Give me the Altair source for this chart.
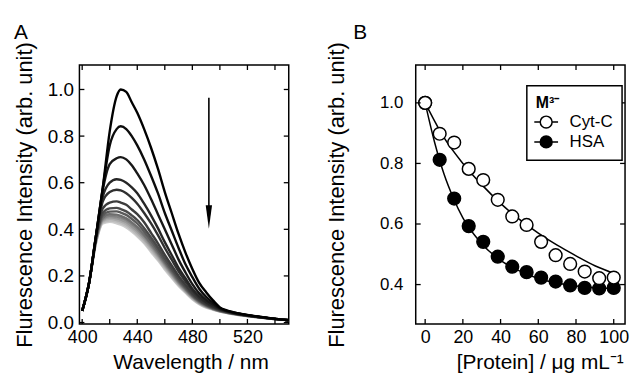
import altair as alt
import pandas as pd

FONT = "Liberation Sans"

# ---------------- Panel A: emission spectra ----------------
wavelength = [400, 405, 410, 415, 420, 425, 428, 432, 436, 440, 445, 450, 455, 460,
              465, 470, 475, 480, 485, 490, 495, 500, 505, 510, 520, 535, 550]

curve_01 = [0.05, 0.17, 0.37, 0.58, 0.82, 0.97, 1.00, 0.99, 0.945, 0.90, 0.83, 0.75, 0.66, 0.56,
            0.47, 0.38, 0.30, 0.23, 0.17, 0.13, 0.095, 0.065, 0.052, 0.044, 0.033, 0.02, 0.01]
curve_02 = [0.05, 0.17, 0.37, 0.58, 0.76, 0.83, 0.842, 0.83, 0.80, 0.76, 0.70, 0.63, 0.555, 0.47,
            0.395, 0.32, 0.25, 0.195, 0.145, 0.11, 0.085, 0.062, 0.05, 0.043, 0.032, 0.02, 0.01]
curve_03 = [0.05, 0.17, 0.37, 0.57, 0.68, 0.705, 0.71, 0.70, 0.675, 0.64, 0.59, 0.53, 0.465, 0.40,
            0.335, 0.27, 0.215, 0.165, 0.125, 0.097, 0.077, 0.06, 0.049, 0.042, 0.031, 0.019, 0.01]
curve_04 = [0.05, 0.17, 0.37, 0.54, 0.60, 0.615, 0.612, 0.60, 0.58, 0.555, 0.51, 0.46, 0.405, 0.345,
            0.29, 0.235, 0.19, 0.145, 0.112, 0.088, 0.071, 0.057, 0.048, 0.041, 0.031, 0.019, 0.01]
curve_05 = [0.05, 0.17, 0.37, 0.52, 0.56, 0.57, 0.567, 0.555, 0.535, 0.51, 0.47, 0.425, 0.375, 0.32,
            0.27, 0.22, 0.177, 0.137, 0.106, 0.084, 0.068, 0.055, 0.047, 0.04, 0.03, 0.019, 0.01]
curve_06 = [0.05, 0.17, 0.36, 0.49, 0.515, 0.52, 0.515, 0.505, 0.485, 0.465, 0.43, 0.385, 0.34, 0.29,
            0.245, 0.20, 0.162, 0.126, 0.099, 0.079, 0.065, 0.053, 0.046, 0.039, 0.03, 0.019, 0.01]
curve_07 = [0.05, 0.17, 0.36, 0.47, 0.49, 0.492, 0.487, 0.477, 0.46, 0.44, 0.405, 0.365, 0.322, 0.275,
            0.232, 0.19, 0.154, 0.121, 0.095, 0.076, 0.063, 0.052, 0.045, 0.039, 0.03, 0.019, 0.01]
curve_08 = [0.05, 0.17, 0.36, 0.46, 0.476, 0.477, 0.472, 0.462, 0.445, 0.425, 0.39, 0.352, 0.31, 0.265,
            0.224, 0.183, 0.149, 0.117, 0.092, 0.074, 0.061, 0.051, 0.044, 0.038, 0.029, 0.018, 0.01]
curve_09 = [0.05, 0.17, 0.355, 0.45, 0.465, 0.463, 0.458, 0.447, 0.43, 0.41, 0.377, 0.34, 0.30, 0.257,
            0.217, 0.177, 0.144, 0.113, 0.089, 0.072, 0.06, 0.05, 0.044, 0.038, 0.029, 0.018, 0.01]
curve_10 = [0.05, 0.17, 0.35, 0.445, 0.458, 0.455, 0.45, 0.44, 0.422, 0.402, 0.37, 0.333, 0.294, 0.252,
            0.212, 0.173, 0.141, 0.111, 0.087, 0.07, 0.059, 0.049, 0.043, 0.037, 0.029, 0.018, 0.01]
curve_11 = [0.05, 0.17, 0.35, 0.44, 0.451, 0.447, 0.442, 0.431, 0.413, 0.393, 0.362, 0.326, 0.287, 0.246,
            0.207, 0.169, 0.137, 0.108, 0.085, 0.069, 0.058, 0.049, 0.043, 0.037, 0.028, 0.018, 0.01]
curve_12 = [0.05, 0.17, 0.345, 0.435, 0.445, 0.44, 0.434, 0.423, 0.405, 0.385, 0.354, 0.318, 0.28, 0.24,
            0.202, 0.165, 0.134, 0.105, 0.083, 0.067, 0.057, 0.048, 0.042, 0.036, 0.028, 0.018, 0.01]
curve_13 = [0.05, 0.17, 0.34, 0.43, 0.438, 0.433, 0.427, 0.415, 0.397, 0.377, 0.346, 0.31, 0.273, 0.234,
            0.197, 0.161, 0.131, 0.103, 0.081, 0.066, 0.056, 0.047, 0.042, 0.036, 0.028, 0.018, 0.01]
curve_14 = [0.05, 0.17, 0.34, 0.425, 0.432, 0.426, 0.42, 0.408, 0.39, 0.37, 0.34, 0.303, 0.267, 0.228,
            0.192, 0.157, 0.128, 0.1, 0.079, 0.064, 0.055, 0.047, 0.041, 0.035, 0.027, 0.017, 0.01]

curves = [curve_01, curve_02, curve_03, curve_04, curve_05, curve_06, curve_07,
          curve_08, curve_09, curve_10, curve_11, curve_12, curve_13, curve_14]
curve_colors = ["#000000", "#0c0c0c", "#181818", "#262626", "#303030", "#3c3c3c", "#4a4a4a",
                "#5a5a5a", "#6e6e6e", "#828282", "#969696", "#aaaaaa", "#bcbcbc", "#cccccc"]

arrow_wl = [492]
arrow_top = [0.965]
arrow_bottom = [0.47]
arrow_head = [0.453]

a_xticks = [400, 420, 440, 460, 480, 500, 520, 540]
a_xlabels = [400, 440, 480, 520]
a_yticks = [0.0, 0.2, 0.4, 0.6, 0.8, 1.0]

# ---------------- Panel B: quenching ----------------
conc = [0, 7.7, 15.4, 23.1, 30.8, 38.5, 46.2, 53.8, 61.5, 69.2, 76.9, 84.6, 92.3, 100]
cytc = [1.0, 0.898, 0.869, 0.782, 0.745, 0.680, 0.625, 0.597, 0.541, 0.497, 0.468, 0.443, 0.421, 0.423]
hsa = [1.0, 0.812, 0.684, 0.593, 0.541, 0.492, 0.459, 0.441, 0.423, 0.410, 0.397, 0.389, 0.387, 0.389]

fit_cytc_x = [0, 10, 20, 30, 40, 50, 60, 70, 80, 90, 100]
fit_cytc_y = [1.0, 0.885, 0.80, 0.73, 0.668, 0.615, 0.57, 0.53, 0.495, 0.462, 0.437]
fit_hsa_x = [0, 5, 10, 15, 20, 30, 40, 50, 60, 70, 80, 90, 100]
fit_hsa_y = [1.0, 0.87, 0.765, 0.685, 0.62, 0.535, 0.48, 0.445, 0.42, 0.405, 0.395, 0.39, 0.386]

b_xticks = [0, 20, 40, 60, 80, 100]
b_yticks = [0.4, 0.6, 0.8, 1.0]

panel_letters = ["A", "B"]

# ---------------- build tables ----------------
rows = []
n = len(curves)
for i in range(n - 1, -1, -1):          # lightest first so dark curves lie on top
    key = f"k{n - 1 - i:02d}"
    for w, v in zip(wavelength, curves[i]):
        rows.append({"x": w, "y": v, "k": key})
spec_df = pd.DataFrame(rows)
key_domain = [f"k{j:02d}" for j in range(n)]
key_range = [curve_colors[n - 1 - j] for j in range(n)]

W, H = 211, 261
TICK = 5

axis_common = dict(domain=False, ticks=False, grid=False, labelFont=FONT, titleFont=FONT,
                   labelColor="black", titleColor="black", titleFontWeight="normal")

xA_scale = alt.Scale(domain=[398, 550], nice=False, zero=False)
yA_scale = alt.Scale(domain=[-0.006, 1.105], nice=False, zero=False)
xA_axis = alt.Axis(values=a_xlabels, title="Wavelength / nm", labelFontSize=18,
                   titleFontSize=21, labelPadding=5, titlePadding=5, titleX=112, **axis_common)
yA_axis = alt.Axis(values=a_yticks, format=".1f", title="Flurescence Intensity (arb. unit)",
                   labelFontSize=19, titleFontSize=22, labelPadding=6, titlePadding=11,
                   **axis_common)

xB_scale = alt.Scale(domain=[-5, 106], nice=False, zero=False)
yB_scale = alt.Scale(domain=[0.27, 1.125], nice=False, zero=False)
xB_axis = alt.Axis(values=b_xticks, title="[Protein] / μg mL⁻¹", labelFontSize=18,
                   titleFontSize=21, labelPadding=5, titlePadding=5, titleX=125,
                   **axis_common)
yB_axis = alt.Axis(values=b_yticks, format=".1f", title="Flurescence Intensity (arb. unit)",
                   labelFontSize=17, titleFontSize=22, labelPadding=13, titlePadding=31,
                   **axis_common)


def X(field, scale, axis):
    return alt.X(field, type="quantitative", scale=scale, axis=axis)


def Y(field, scale, axis):
    return alt.Y(field, type="quantitative", scale=scale, axis=axis)


linesA = alt.Chart(spec_df).mark_line(strokeWidth=2.4, interpolate="monotone").encode(
    x=X("x", xA_scale, xA_axis),
    y=Y("y", yA_scale, yA_axis),
    color=alt.Color("k:N", scale=alt.Scale(domain=key_domain, range=key_range), legend=None),
)

arrow_df = pd.DataFrame({"x": arrow_wl, "y": arrow_top, "y2": arrow_bottom})
head_df = pd.DataFrame({"x": arrow_wl, "y": arrow_head})
arrow_line = alt.Chart(arrow_df).mark_rule(color="black", strokeWidth=1.6).encode(
    x=X("x", xA_scale, xA_axis), y=Y("y", yA_scale, yA_axis), y2="y2:Q")
arrow_tip = alt.Chart(head_df).mark_point(shape="M-0.27,-1L0.27,-1L0,1Z", size=560, filled=True,
                                          color="black", opacity=1).encode(
    x=X("x", xA_scale, xA_axis), y=Y("y", yA_scale, yA_axis))


def tick_layers(xticks, yticks, xs, ys, xa, ya):
    xt = pd.DataFrame({"x": xticks})
    yt = pd.DataFrame({"y": yticks})
    base_x = alt.Chart(xt).mark_rule(color="black", strokeWidth=1.3)
    base_y = alt.Chart(yt).mark_rule(color="black", strokeWidth=1.3)
    bottom = base_x.encode(x=X("x", xs, xa), y=alt.value(H), y2=alt.value(H - TICK))
    top = base_x.encode(x=X("x", xs, xa), y=alt.value(0), y2=alt.value(TICK))
    left = base_y.encode(y=Y("y", ys, ya), x=alt.value(0), x2=alt.value(TICK))
    right = base_y.encode(y=Y("y", ys, ya), x=alt.value(W), x2=alt.value(W - TICK))
    return [bottom, top, left, right]


def letter(txt, dx):
    return alt.Chart(pd.DataFrame({"t": [txt]})).mark_text(
        font=FONT, fontSize=21, align="left", baseline="alphabetic", color="black"
    ).encode(text="t:N", x=alt.value(dx), y=alt.value(-26))


panelA = alt.layer(linesA, arrow_line, arrow_tip,
                   *tick_layers(a_xticks, a_yticks, xA_scale, yA_scale, xA_axis, yA_axis),
                   letter(panel_letters[0], -66)).properties(width=W, height=H)

# ---------------- Panel B ----------------
pts_df = pd.DataFrame({
    "x": conc + conc,
    "y": hsa + cytc,
    "p": ["HSA"] * len(conc) + ["Cyt-C"] * len(conc),
})
fit_df = pd.DataFrame({
    "x": fit_hsa_x + fit_cytc_x,
    "y": fit_hsa_y + fit_cytc_y,
    "p": ["HSA"] * len(fit_hsa_x) + ["Cyt-C"] * len(fit_cytc_x),
})

legend_symbol = ("M-1.26,0L-0.63,0M0.63,0L1.26,0"
                 "M-0.63,0A0.63,0.63,0,1,1,0.63,0A0.63,0.63,0,1,1,-0.63,0Z")

fitB = alt.Chart(fit_df).mark_line(color="black", strokeWidth=1.5, interpolate="monotone").encode(
    x=X("x", xB_scale, xB_axis),
    y=Y("y", yB_scale, yB_axis),
    detail="p:N",
)
ptsB = alt.Chart(pts_df).mark_point(filled=True, size=165, stroke="black", strokeWidth=1.5,
                                    opacity=1).encode(
    x=X("x", xB_scale, xB_axis),
    y=Y("y", yB_scale, yB_axis),
    fill=alt.Fill("p:N", scale=alt.Scale(domain=["Cyt-C", "HSA"], range=["white", "black"]),
                  legend=alt.Legend(title="M³⁻", orient="none", legendX=451, legendY=21,
                                    symbolType=legend_symbol, symbolSize=361,
                                    symbolStrokeColor="black", symbolStrokeWidth=1.5,
                                    labelFont=FONT, labelFontSize=17, labelColor="black",
                                    titleFont=FONT, titleFontSize=16, titleFontWeight="bold",
                                    titleColor="black", labelOffset=13, rowPadding=0,
                                    titlePadding=1, padding=9, strokeColor="black",
                                    fillColor="white")),
)

panelB = alt.layer(fitB, ptsB,
                   *tick_layers(b_xticks, b_yticks, xB_scale, yB_scale, xB_axis, yB_axis),
                   letter(panel_letters[1], -63)).properties(width=W, height=H)

chart = alt.hconcat(panelA, panelB, spacing=30).properties(
    padding={"left": 4, "top": 12, "right": 0, "bottom": 0}
).configure_view(stroke="black", strokeWidth=1.5).configure_legend(strokeWidth=1.5, cornerRadius=0)

chart.save("out.html", embed_options={"renderer": "svg", "actions": False})
